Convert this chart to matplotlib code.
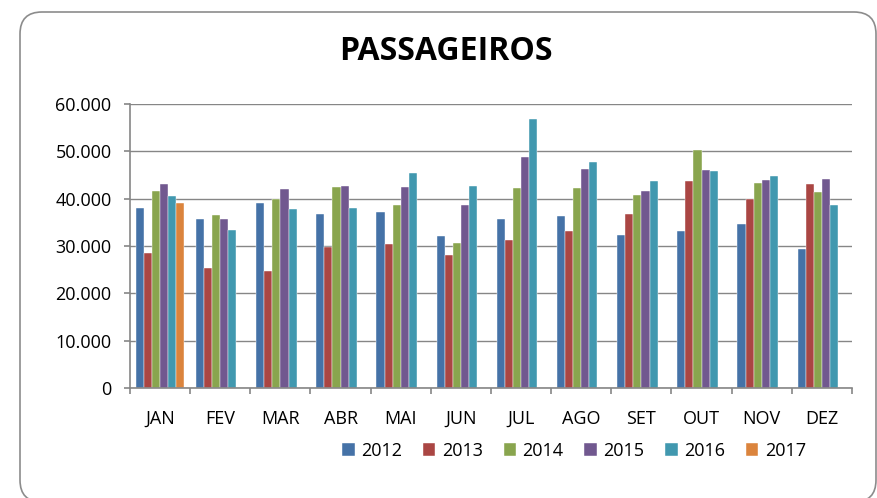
import matplotlib
matplotlib.use('Agg')
import matplotlib.pyplot as plt
import numpy as np
from matplotlib.patches import FancyBboxPatch
from matplotlib.ticker import FuncFormatter

months = ['JAN', 'FEV', 'MAR', 'ABR', 'MAI', 'JUN', 'JUL', 'AGO', 'SET', 'OUT', 'NOV', 'DEZ']
years = ['2012', '2013', '2014', '2015', '2016', '2017']

v2012 = [38000, 35700, 39000, 36800, 37200, 32200, 35600, 36300, 32400, 33100, 34600, 29400]
v2013 = [28450, 25300, 24700, 29800, 30500, 28000, 31300, 33200, 36800, 43800, 39900, 43000]
v2014 = [41550, 36500, 40000, 42500, 38700, 30700, 42200, 42300, 40800, 50200, 43300, 41400]
v2015 = [43170, 35600, 42100, 42700, 42400, 38700, 48700, 46200, 41600, 46000, 43900, 44100]
v2016 = [40500, 33450, 37750, 38100, 45400, 42700, 56900, 47700, 43700, 45900, 44800, 38600]
v2017 = [39000] + [np.nan] * 11

colors = ['#4572A7', '#AA4643', '#89A54E', '#71588F', '#4198AF', '#DB843D']


def main():
    plt.rcParams['font.family'] = ['Open Sans', 'DejaVu Sans']
    fig = plt.figure(figsize=(8.78, 4.98), dpi=100)

    # rounded chart border, bottom edge falls just outside the image
    frame = FancyBboxPatch((20 / 878, -4 / 498), 856 / 878, 490 / 498,
                           boxstyle='round,pad=0,rounding_size=0.025',
                           transform=fig.transFigure, facecolor='white',
                           edgecolor='#8c8c8c', linewidth=1.2,
                           mutation_aspect=878 / 498, zorder=-10)
    fig.patches.append(frame)

    ax = fig.add_axes([130 / 878, 1 - 388 / 498, 722 / 878, 284 / 498])
    ax.set_zorder(5)
    ax.patch.set_alpha(0)
    series = [v2012, v2013, v2014, v2015, v2016, v2017]
    x = np.arange(len(months))
    w = 0.135
    for i, (vals, c, lab) in enumerate(zip(series, colors, years)):
        ax.bar(x + (i - 2.5) * w, vals, w, color=c, label=lab,
               edgecolor='white', linewidth=0.3)

    ax.set_xlim(-0.5, 11.5)
    ax.set_ylim(0, 60000)
    ax.set_yticks(np.arange(0, 60001, 10000))
    ax.yaxis.set_major_formatter(FuncFormatter(lambda v, p: '{:,.0f}'.format(v).replace(',', '.')))
    ax.set_xticks(x)
    ax.set_xticklabels(months)
    ax.set_xticks(np.arange(-0.5, 12, 1), minor=True)
    ax.tick_params(axis='x', which='major', length=0, pad=16, labelsize=13)
    ax.tick_params(axis='x', which='minor', length=4.3, color='#868686', width=1.2)
    ax.tick_params(axis='y', length=4.3, color='#868686', width=1.2, labelsize=13, pad=9)
    ax.grid(axis='y', color='#868686', linewidth=1)
    ax.set_axisbelow(True)
    for s in ['top', 'right']:
        ax.spines[s].set_visible(False)
    for s in ['left', 'bottom']:
        ax.spines[s].set_color('#868686')
        ax.spines[s].set_linewidth(1.2)

    fig.text(446 / 878, 1 - 52 / 498, 'PASSAGEIROS', ha='center', va='center',
             fontsize=23, fontweight='bold')

    ax.legend(loc='center', bbox_to_anchor=(574 / 878, 1 - 451 / 498),
              bbox_transform=fig.transFigure, ncol=6, frameon=False,
              fontsize=13, handlelength=0.7, handleheight=0.7,
              handletextpad=0.35, columnspacing=1.15)

    fig.savefig('out.png', dpi=100)


if __name__ == '__main__':
    main()
